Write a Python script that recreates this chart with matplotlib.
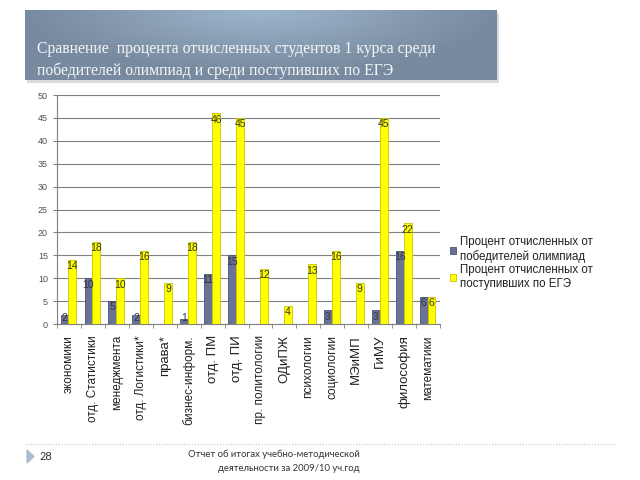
import numpy as np
import matplotlib.pyplot as plt
from matplotlib.patches import Polygon

# Данные
categories = ['экономики', 'отд. Статистики', 'менеджмента', 'отд. Логистики*',
              'права*', 'бизнес-информ.', 'отд. ПМ', 'отд. ПИ', 'пр. политологии',
              'ОДиПЖ', 'психологии', 'социологии', 'МЭиМП', 'ГиМУ',
              'философия', 'математики']
olymp = [2, 10, 5, 2, 0, 1, 11, 15, 0, 0, 0, 3, 0, 3, 16, 6]
ege = [14, 18, 10, 16, 9, 18, 46, 45, 12, 4, 13, 16, 9, 45, 22, 6]
series_names = ['Процент отчисленных от\nпобедителей олимпиад',
                'Процент отчисленных от\nпоступивших по ЕГЭ']
big_labels = ['права*', 'отд. ПМ', 'отд. ПИ', 'ОДиПЖ', 'МЭиМП', 'ГиМУ', 'философия']

title = 'Сравнение  процента отчисленных студентов 1 курса среди\nпобедителей олимпиад и среди поступивших по ЕГЭ'
footer = 'Отчет об итогах учебно-методической\nдеятельности за 2009/10 уч.год'

plt.rcParams['font.family'] = ['Liberation Sans', 'DejaVu Sans']

fig = plt.figure(figsize=(6.4, 4.8), dpi=100)
fig.patch.set_facecolor('white')

# Заголовок с градиентом
shadow = fig.add_axes([27 / 640, 1 - 83 / 480, 472 / 640, 70 / 480])
shadow.set_facecolor('#d8dcdf')
shadow.set_xticks([]); shadow.set_yticks([])
for s in shadow.spines.values():
    s.set_visible(False)

banner = fig.add_axes([25 / 640, 1 - 80 / 480, 472 / 640, 70 / 480])
xx, yy = np.meshgrid(np.linspace(-1, 1, 300), np.linspace(0, 1, 60))
r = np.clip(np.sqrt(xx ** 2 + (yy * 1.1) ** 2), 0, 1)
c_in = np.array([0x9d, 0xb6, 0xcc]) / 255
c_out = np.array([0x78, 0x8a, 0x9f]) / 255
img = c_in[None, None, :] * (1 - r[..., None]) + c_out[None, None, :] * r[..., None]
banner.imshow(img, aspect='auto', extent=[0, 1, 0, 1], origin='upper')
banner.set_xlim(0, 1); banner.set_ylim(0, 1)
banner.set_xticks([]); banner.set_yticks([])
for s in banner.spines.values():
    s.set_visible(False)
banner.text(12 / 472, (80 - 60) / 70, title, transform=banner.transAxes, ha='left', va='center',
            fontsize=11.3, color='#f4f6f8', family=['Liberation Serif', 'DejaVu Serif'],
            linespacing=1.4)

# Основной график
ax = fig.add_axes([57 / 640, 1 - 324 / 480, 383 / 640, 229 / 480])
x = np.arange(len(categories))
w = 0.33
b1 = ax.bar(x - w / 2 - 0.02, olymp, w, color='#6a7394', edgecolor='#4a5270', linewidth=0.6,
            label=series_names[0], zorder=3)
b2 = ax.bar(x + w / 2 - 0.02, ege, w, color='#ffff00', edgecolor='#c8c400', linewidth=0.6,
            label=series_names[1], zorder=3)

for rect, v in zip(b1, olymp):
    if v > 0:
        ax.text(rect.get_x() + rect.get_width() / 2, max(v - 0.3, 2.3), str(v), ha='center',
                va='top', fontsize=7.5, color='#333344', zorder=4)
for rect, v in zip(b2, ege):
    ax.text(rect.get_x() + rect.get_width() / 2, max(v - 0.3, 2.3), str(v), ha='center',
            va='top', fontsize=7.5, color='#333322', zorder=4)

ax.set_xlim(-0.5, len(categories) - 0.5)
ax.set_ylim(0, 50)
ax.set_yticks(np.arange(0, 51, 5))
ax.yaxis.grid(True, color='#808080', linewidth=0.8, zorder=0)
ax.set_axisbelow(True)
for s in ['top', 'right']:
    ax.spines[s].set_visible(False)
ax.spines['left'].set_color('#808080')
ax.spines['bottom'].set_color('#808080')
ax.tick_params(axis='y', labelsize=6.5, colors='#808080', labelcolor='#505050', length=3)
ax.set_xticks(x)
ax.set_xticklabels(categories, rotation=90, color='#222222')
for lbl in ax.get_xticklabels():
    lbl.set_fontsize(9.5 if lbl.get_text() in big_labels else 8.5)
ax.set_xticks(np.arange(-0.5, len(categories), 1), minor=True)
ax.tick_params(axis='x', which='major', length=0, pad=8)
ax.tick_params(axis='x', which='minor', length=3, color='#808080')

fig.legend(handles=[b1, b2], labels=series_names, loc='upper left',
           bbox_to_anchor=(440 / 640, 1 - 226 / 480), frameon=False, fontsize=8.3,
           handlelength=0.5, handleheight=0.5, handletextpad=0.3, labelspacing=0.1,
           labelcolor='#222222')

# Нижний колонтитул
fig.add_artist(plt.Line2D([25 / 640, 615 / 640], [1 - 444 / 480, 1 - 444 / 480],
                          linestyle=(0, (1, 1.5)), color='#b8c4d0', linewidth=0.8))
fig.add_artist(Polygon([[27 / 640, 1 - 450 / 480], [27 / 640, 1 - 463 / 480],
                        [34 / 640, 1 - 456.5 / 480]], closed=True, color='#a9bccf'))
fig.text(40 / 640, 1 - 456 / 480, '28', fontsize=8, color='#333333', va='center',
         family=['Lato', 'DejaVu Sans'])
fig.text(360 / 640, 1 - 461 / 480, footer, fontsize=6.8, color='#333333', va='center',
         ha='right', multialignment='right', family=['Lato', 'DejaVu Sans'], linespacing=1.7)

fig.savefig('out.png', dpi=100)
